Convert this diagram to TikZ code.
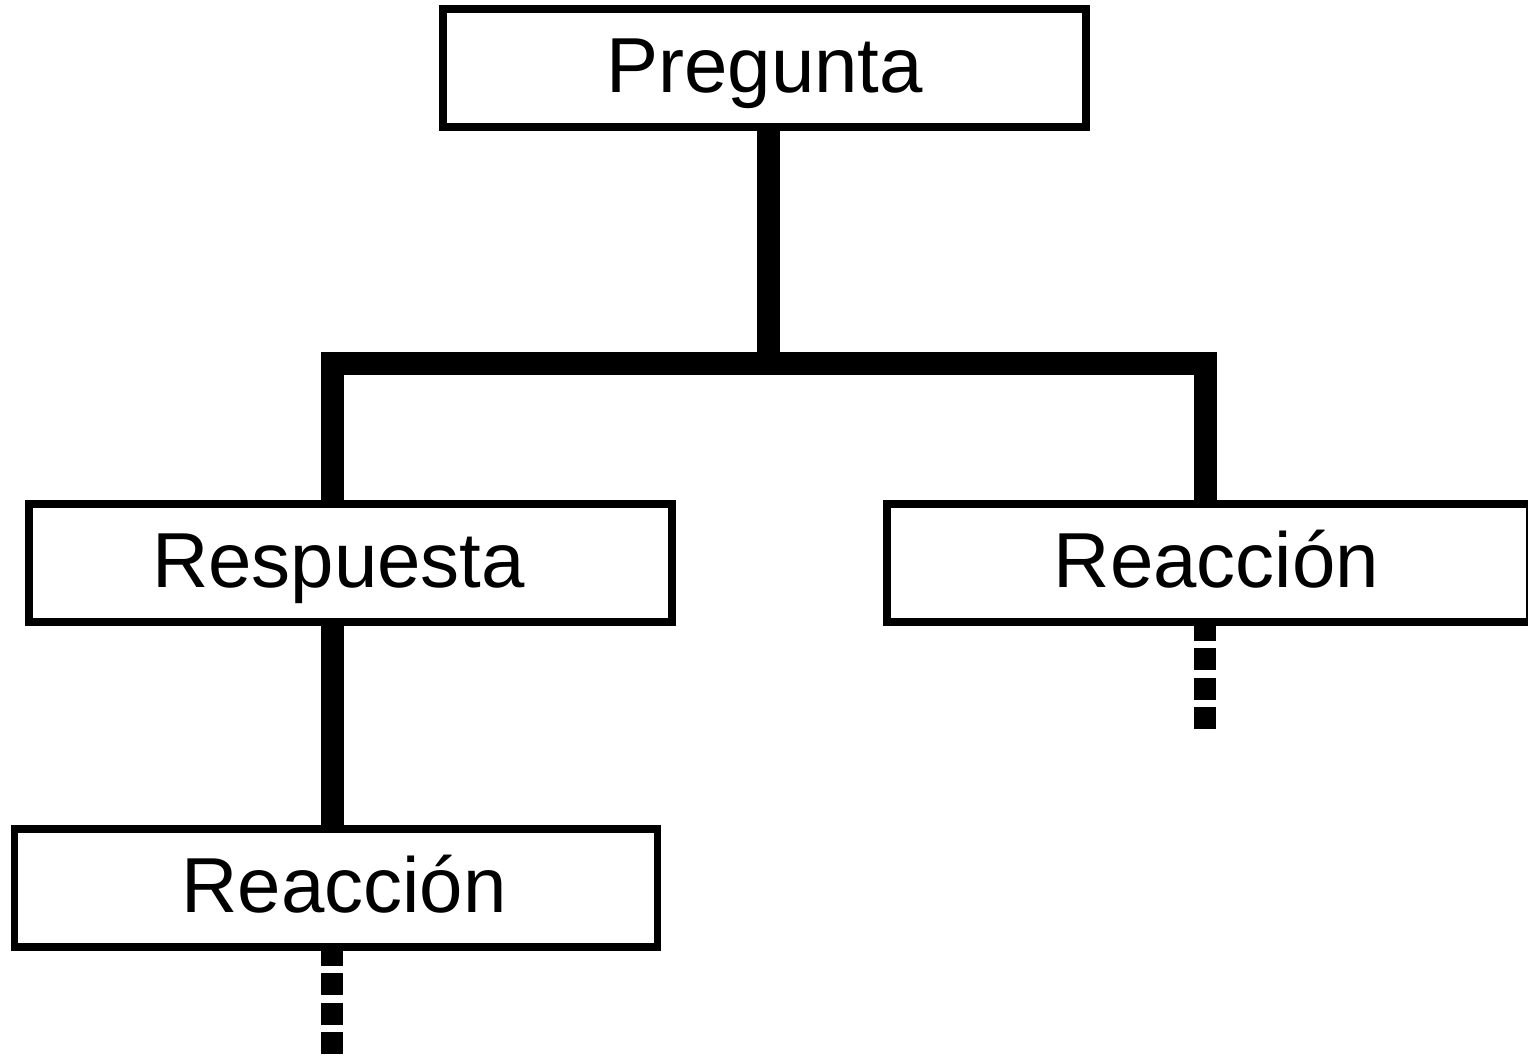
\documentclass[tikz,border=0pt]{standalone}
\usepackage{fontspec}
\setmainfont{Liberation Sans}
\begin{document}
\begin{tikzpicture}[x=0.5pt,y=-0.5pt,
  box/.style={draw,line width=3.85pt,fill=white,minimum width=321.5pt,minimum height=59pt,
    inner sep=0pt,font=\fontsize{39}{39}\selectfont,text height=25pt,text depth=0pt},
  conn/.style={line width=11.5pt,line join=miter},
  cont/.style={line width=11pt,dash pattern=on 11pt off 3.75pt,dash phase=3.5pt}]
\fill[white] (0,0) rectangle (1528,1058);
\useasboundingbox (0,0) rectangle (1528,1058);
\node[box] (preg) at (764.75,68) {Pregunta};
\node[box] (resp) at (350.5,563) {\kern-12pt Respuesta};
\node[box] (reacR) at (1208.5,563) {\kern8pt Reacción};
\node[box] (reacL) at (336,888) {\kern8pt Reacción};
\coordinate (j) at (768.5,363.5);
\coordinate (jl) at (332,363.5);
\coordinate (jr) at (1205,363.5);
\draw[conn] (preg.south -| j) -- (j);
\draw[conn] (resp.north -| jl) -- (jl) -- (jr) -- (reacR.north -| jr);
\draw[conn] (resp.south -| jl) -- (reacL.north -| jl);
\coordinate (endR) at (1205,729.5);
\coordinate (endL) at (332,1054);
\draw[cont] (reacR.south -| endR) -- (endR);
\draw[cont] (reacL.south -| endL) -- (endL);
\end{tikzpicture}
\end{document}
